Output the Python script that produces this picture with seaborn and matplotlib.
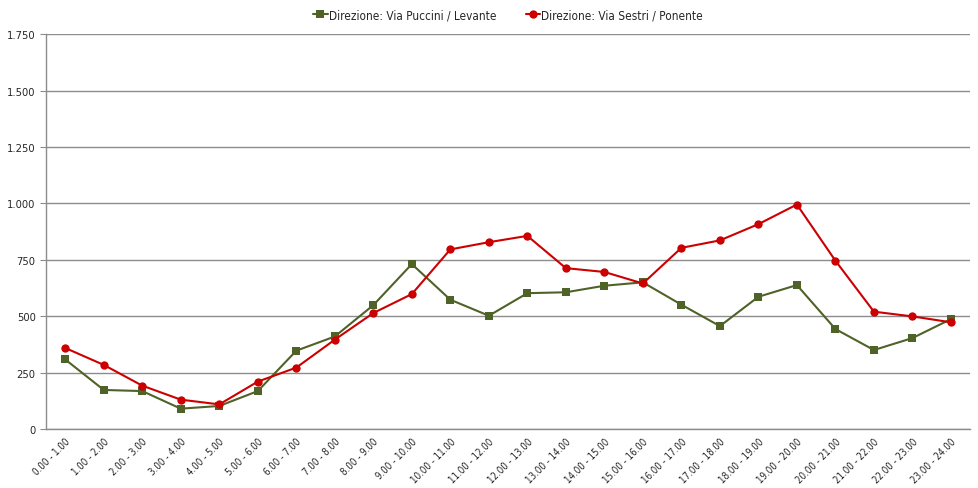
import matplotlib
matplotlib.use("Agg")
import matplotlib.pyplot as plt
import matplotlib.ticker as mticker
import seaborn as sns
import pandas as pd

# fasce orarie
fasce = ["%d.00 - %d.00" % (h, h + 1) for h in range(24)]

# Direzione: Via Puccini / Levante
levante = [308, 173, 168, 90, 102, 168, 347, 410, 549, 731, 573, 502,
           602, 606, 635, 650, 551, 456, 586, 638, 443, 350, 403, 487]
# Direzione: Via Sestri / Ponente
ponente = [359, 284, 192, 130, 109, 210, 272, 396, 514, 598, 796, 828,
           856, 713, 696, 645, 803, 836, 908, 995, 746, 520, 499, 473]

nomi = ["Direzione: Via Puccini / Levante", "Direzione: Via Sestri / Ponente"]
colori = ["#4F6228", "#CC0000"]
marker = ["s", "o"]

df = pd.DataFrame({"fascia": fasce * 2,
                   "valore": levante + ponente,
                   "serie": [nomi[0]] * 24 + [nomi[1]] * 24})

sns.set_style("white")
plt.rcParams['font.family'] = ['DejaVu Sans']
plt.rcParams['font.stretch'] = 'condensed'

fig = plt.figure(figsize=(9.79, 4.89), dpi=100)
ax = fig.add_axes([0.047, 0.1207, 0.944, 0.8073])

for i, nome in enumerate(nomi):
    sub = df[df["serie"] == nome]
    sns.lineplot(data=sub, x="fascia", y="valore", ax=ax, color=colori[i],
                 marker=marker[i], markersize=6, markeredgewidth=0,
                 linewidth=1.5, label=nome, sort=False)

ax.set_xlim(-0.5, 23.5)
ax.set_ylim(0, 1750)
ax.yaxis.set_major_locator(mticker.MultipleLocator(250))
ax.yaxis.set_major_formatter(mticker.FuncFormatter(lambda v, p: f"{int(v):,}".replace(",", ".")))
ax.grid(axis="y", color="#8c8c8c", linewidth=1)
ax.set_axisbelow(True)

ax.set_xticks(range(24))
ax.set_xticklabels(fasce, rotation=45, ha="right", rotation_mode="anchor", fontsize=7)
ax.xaxis.set_minor_locator(mticker.FixedLocator([x - 0.5 for x in range(25)]))
ax.tick_params(axis="x", which="major", length=0, pad=5)
ax.tick_params(axis="x", which="minor", length=4, color="#8c8c8c", direction="out")
ax.tick_params(axis="y", length=4, color="#8c8c8c", direction="out", labelsize=8, left=True)
ax.set_xlabel("")
ax.set_ylabel("")

for s in ["top", "right"]:
    ax.spines[s].set_visible(False)
for s in ["left", "bottom"]:
    ax.spines[s].set_color("#8c8c8c")
    ax.spines[s].set_linewidth(1)

ax.legend(loc="lower center", bbox_to_anchor=(0.5, 1.02), ncol=2, frameon=False,
          fontsize=8.5, handlelength=1.2, handletextpad=0.1, columnspacing=2.5,
          borderaxespad=0)

fig.savefig("out.png", dpi=100)
